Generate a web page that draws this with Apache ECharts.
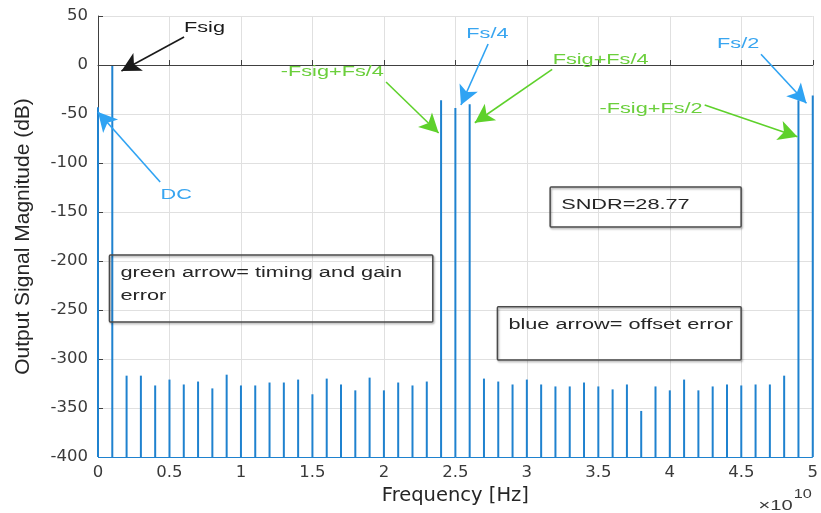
<!DOCTYPE html>
<html>
<head>
<meta charset="utf-8">
<script src="https://cdn.jsdelivr.net/npm/echarts@6/dist/echarts.min.js"></script>
<style>
  html, body { margin: 0; padding: 0; background: #ffffff; }
  #chart { width: 821px; height: 513px; }
</style>
</head>
<body>
<div id="chart"></div>
<script>
// Spectrum bins, frequency in units of 1e10 Hz
const frequency = [
  0.0, 0.1, 0.2, 0.3, 0.4, 0.5, 0.6, 0.7, 0.8, 0.9,
  1.0, 1.1, 1.2, 1.3, 1.4, 1.5, 1.6, 1.7, 1.8, 1.9,
  2.0, 2.1, 2.2, 2.3, 2.4, 2.5, 2.6, 2.7, 2.8, 2.9,
  3.0, 3.1, 3.2, 3.3, 3.4, 3.5, 3.6, 3.7, 3.8, 3.9,
  4.0, 4.1, 4.2, 4.3, 4.4, 4.5, 4.6, 4.7, 4.8, 4.9,
  5.0
];
// Output magnitude per bin (dB)
const magnitudeDb = [
  -43, -1, -317, -317, -327, -321, -326, -323, -330, -316,
  -327, -327, -324, -324, -321, -336, -320, -326, -332, -319,
  -332, -324, -327, -323, -36, -44, -40, -320, -323, -326,
  -321, -326, -328, -328, -324, -328, -331, -326, -353, -328,
  -332, -321, -332, -328, -326, -327, -326, -326, -317, -36,
  -31
];
const xTickLabels = ['0', '0.5', '1', '1.5', '2', '2.5', '3', '3.5', '4', '4.5', '5'];
const yTickValues = [50, 0, -50, -100, -150, -200, -250, -300, -350, -400];

// Arrow annotations (data coordinates)
const arrowText = ['Fsig', 'DC', '-Fsig+Fs/4', 'Fs/4', 'Fsig+Fs/4', 'Fs/2', '-Fsig+Fs/2'];
const arrowTextAt = [[0.745, 38.5], [0.547, -132.7], [1.639, -7.1], [2.724, 32.3], [3.516, 5.1], [4.478, 22.1], [3.869, -44.2]];
const arrowFrom = [[0.602, 28.6], [0.435, -119.4], [2.015, -17.3], [2.729, 21.4], [3.177, -4.4], [4.638, 10.9], [4.244, -40.8]];
const arrowTo = [[0.164, -6.1], [0.0, -48], [2.383, -69.4], [2.539, -40.8], [2.636, -58.9], [4.956, -39.1], [4.893, -73.2]];
const arrowKind = ['black', 'blue', 'green', 'blue', 'green', 'blue', 'green'];

// Text boxes (data coordinates of top-left and bottom-right corners)
const boxText = ['green arrow= timing and gain\nerror', 'SNDR=28.77', 'blue arrow= offset error'];
const boxTopLeft = [[0.080, -193.9], [3.163, -124.5], [2.794, -246.6]];
const boxBottomRight = [[2.342, -262.2], [4.499, -165.3], [4.499, -301.0]];

const Y_MIN = -400, Y_MAX = 50;
const BAR_COLOR = '#1f82cf';
const ARROW_COLOR = { black: '#1a1a1a', blue: '#2fa3f3', green: '#5ed12b' };
const LABEL_COLOR = { black: '#1a1a1a', blue: '#38a5f0', green: '#6bcf3c' };
const ANNOT_FONT = '15.5px "Liberation Sans"';
const ANNOT_SCALE = 1.4;
const LINE_H = 23;

const chart = echarts.init(document.getElementById('chart'), null, { renderer: 'canvas' });

const arrowLines = arrowFrom.map((p, i) => [
  { coord: p, symbol: 'none', lineStyle: { color: ARROW_COLOR[arrowKind[i]], width: 1.6 } },
  { coord: arrowTo[i], symbol: 'arrow', symbolSize: [15, 19] }
]);

chart.setOption({
  animation: false,
  backgroundColor: '#ffffff',
  grid: { left: 98, right: 4, top: 16, bottom: 56, containLabel: false },
  xAxis: {
    type: 'value',
    min: 0, max: 5, interval: 0.5,
    name: 'Frequency [Hz]',
    nameLocation: 'middle',
    nameGap: 27,
    nameTextStyle: { fontFamily: 'DejaVu Sans', fontSize: 19.5, color: '#262626' },
    axisLine: { show: true, lineStyle: { color: '#404040', width: 1 } },
    axisTick: { show: true, inside: true, length: 5, lineStyle: { color: '#404040' } },
    axisLabel: {
      margin: 7, fontFamily: 'DejaVu Sans', fontSize: 16.5, color: '#3a3a3a',
      formatter: v => xTickLabels[Math.round(v / 0.5)]
    },
    splitLine: { show: true, lineStyle: { color: '#e0e0e0', width: 1 } }
  },
  yAxis: {
    type: 'value',
    min: Y_MIN, max: Y_MAX, interval: 50,
    name: 'Output Signal Magnitude (dB)',
    nameLocation: 'middle',
    nameGap: 64,
    nameTextStyle: { fontFamily: 'Liberation Sans', fontSize: 21, color: '#262626' },
    axisLine: { show: true, lineStyle: { color: '#404040', width: 1 } },
    axisTick: { show: true, inside: true, length: 5, lineStyle: { color: '#404040' } },
    axisLabel: {
      margin: 10, fontFamily: 'DejaVu Sans', fontSize: 16.5, color: '#3a3a3a',
      formatter: v => (yTickValues.indexOf(v) >= 0 ? String(v) : '')
    },
    splitLine: { show: true, lineStyle: { color: '#e0e0e0', width: 1 } }
  },
  series: [
    {
      type: 'custom',
      name: 'spectrum',
      data: frequency.map((f, i) => [f, magnitudeDb[i]]),
      renderItem: function (params, api) {
        const top = api.coord([api.value(0), api.value(1)]);
        const base = api.coord([api.value(0), Y_MIN]);
        return {
          type: 'line',
          shape: { x1: top[0], y1: top[1], x2: base[0], y2: base[1] },
          style: { stroke: BAR_COLOR, lineWidth: 2 }
        };
      },
      markLine: {
        silent: true,
        animation: false,
        label: { show: false },
        emphasis: { disabled: true },
        data: [
          [
            { coord: [0, Y_MIN], symbol: 'none', lineStyle: { color: BAR_COLOR, width: 1, type: 'solid' } },
            { coord: [5, Y_MIN], symbol: 'none' }
          ]
        ]
      },
      z: 2
    },
    {
      type: 'line',
      name: 'annotations',
      data: [],
      markLine: {
        silent: true,
        animation: false,
        label: { show: false },
        emphasis: { disabled: true },
        lineStyle: { type: 'solid' },
        data: arrowLines
      },
      z: 5
    }
  ]
});

// Annotation texts and boxes, placed through the grid's coordinate system
const toPx = p => chart.convertToPixel({ gridIndex: 0 }, p);
const graphics = [];

arrowText.forEach((t, i) => {
  const p = toPx(arrowTextAt[i]);
  graphics.push({
    type: 'text', x: p[0], y: p[1], scaleX: ANNOT_SCALE, z: 10,
    style: { text: t, font: ANNOT_FONT, fill: LABEL_COLOR[arrowKind[i]], align: 'center', verticalAlign: 'middle' }
  });
});

boxText.forEach((t, i) => {
  const a = toPx(boxTopLeft[i]);
  const b = toPx(boxBottomRight[i]);
  graphics.push({
    type: 'rect', z: 9,
    shape: { x: a[0], y: a[1], width: b[0] - a[0], height: b[1] - a[1], r: 1 },
    style: {
      fill: 'none', stroke: '#4a4a4a', lineWidth: 1.5,
      shadowColor: 'rgba(0,0,0,0.35)', shadowBlur: 2, shadowOffsetX: 1, shadowOffsetY: 1.5
    }
  });
  graphics.push({
    type: 'text', x: a[0] + 11, y: a[1] + 18 - LINE_H / 2, scaleX: ANNOT_SCALE, z: 10,
    style: { text: t, font: ANNOT_FONT, fill: '#262626', align: 'left', verticalAlign: 'top', lineHeight: LINE_H }
  });
});

// Exponent marker of the frequency axis
const axisEnd = toPx([5, Y_MIN]);
graphics.push({
  type: 'text', x: axisEnd[0] - 20, y: axisEnd[1] + 49, scaleX: 1.3, z: 10,
  style: { text: '\u00d710', font: '15.5px "Liberation Sans"', fill: '#3a3a3a', align: 'right', verticalAlign: 'middle' }
});
graphics.push({
  type: 'text', x: axisEnd[0] - 19, y: axisEnd[1] + 38, scaleX: 1.3, z: 10,
  style: { text: '10', font: '12.5px "Liberation Sans"', fill: '#3a3a3a', align: 'left', verticalAlign: 'middle' }
});

chart.setOption({ graphic: graphics });
</script>
</body>
</html>
